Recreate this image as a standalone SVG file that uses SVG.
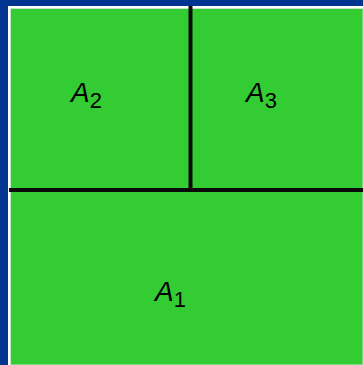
<svg xmlns="http://www.w3.org/2000/svg" width="363" height="365" viewBox="0 0 363 365">
<style>
.lbl{font-family:"Liberation Sans",Arial,sans-serif;font-size:28px;fill:#000;}
.main{font-style:italic;}
.sub{font-size:22px;}
.div{stroke:#0a0a0a;stroke-width:4;fill:none;}
</style>
<rect x="0" y="0" width="363" height="365" fill="#023590"/>
<rect x="8" y="6" width="355" height="359" fill="#ffffff"/>
<rect x="10.5" y="8.5" width="352.5" height="356.5" fill="#33cc33" stroke="#c8e6c8" stroke-width="1"/>
<g id="connectors">
<line class="div" x1="190.5" y1="6" x2="190.5" y2="190"/>
<line class="div" x1="9" y1="190" x2="363" y2="190"/>
</g>
<g id="A2"><text class="lbl" x="71" y="102"><tspan class="main">A</tspan><tspan class="sub" dy="6">2</tspan></text></g>
<g id="A3"><text class="lbl" x="246" y="102"><tspan class="main">A</tspan><tspan class="sub" dy="6">3</tspan></text></g>
<g id="A1"><text class="lbl" x="155" y="301"><tspan class="main">A</tspan><tspan class="sub" dy="6">1</tspan></text></g>
</svg>
